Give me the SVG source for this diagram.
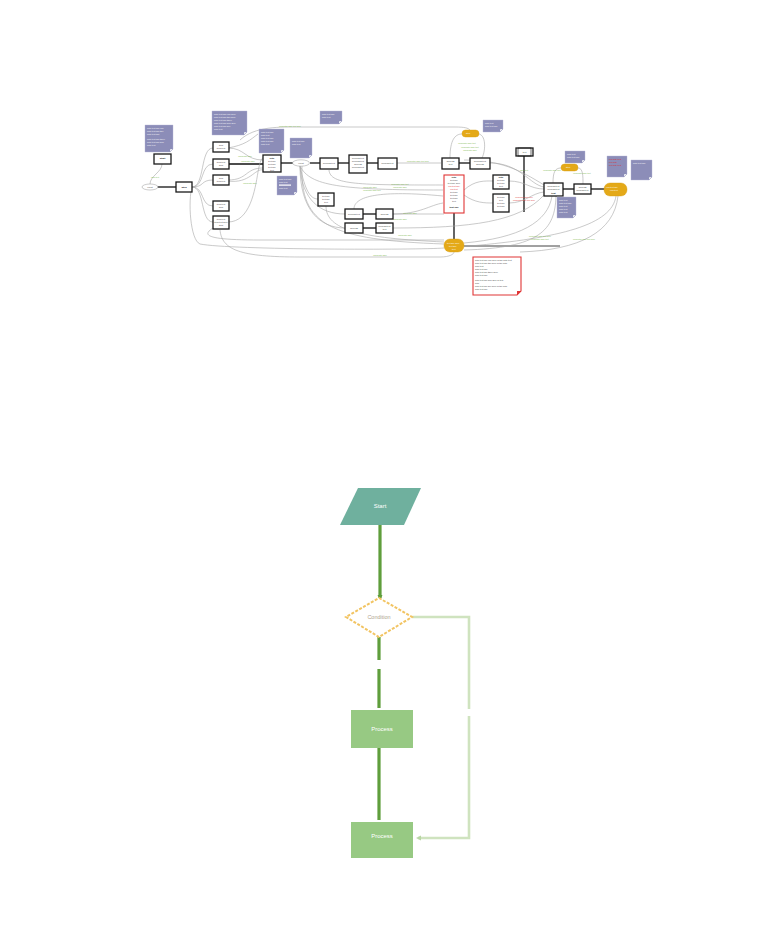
<svg xmlns="http://www.w3.org/2000/svg" width="768" height="946" viewBox="0 0 768 946">
<style>
.box{fill:#fff;stroke:#1a1a1a;stroke-width:1.3}
.note{fill:#8c8db8;stroke:#b8b9d6;stroke-width:0.4}
.fold{fill:#fff;stroke:#8c8db8;stroke-width:0.4}
.pill{fill:#e4a918;stroke:#d69c10;stroke-width:0.4}
.red{fill:#fff;stroke:#e03535;stroke-width:1.1}
.c{fill:none;stroke:#a6a6a6;stroke-width:0.6}
.k{fill:none;stroke:#111;stroke-width:1.3}
.t{font-family:"Liberation Sans",Arial,sans-serif;font-size:2.2px;fill:#333;text-anchor:middle}
.tb{font-family:"Liberation Sans",Arial,sans-serif;font-size:2.4px;fill:#111;font-weight:bold;text-anchor:middle}
.tw{font-family:"Liberation Sans",Arial,sans-serif;font-size:2.2px;fill:#fff}
.tr{font-family:"Liberation Sans",Arial,sans-serif;font-size:2.2px;fill:#d22}
.g{font-family:"Liberation Sans",Arial,sans-serif;font-size:2px;fill:#7ab648;text-anchor:middle}
.big{fill:none;stroke:#5f9e3c;stroke-width:3.2}
.lite{fill:none;stroke:#cfe3bf;stroke-width:2.6}
.bt{font-family:"Liberation Sans",Arial,sans-serif;font-size:6px;fill:#fff;text-anchor:middle}
</style>
<defs>
<marker id="ag" markerWidth="6" markerHeight="6" refX="3" refY="3" orient="auto" markerUnits="userSpaceOnUse"><path d="M0,0.5 L5,3 L0,5.5 z" fill="#5f9e3c"/></marker>
<marker id="al" markerWidth="6" markerHeight="6" refX="3" refY="3" orient="auto" markerUnits="userSpaceOnUse"><path d="M0,0.5 L5,3 L0,5.5 z" fill="#b9d6a4"/></marker>
</defs>
<rect width="768" height="946" fill="#fff"/>

<!-- ================= TOP DIAGRAM ================= -->
<g id="connectors-top">
<!-- black flow lines -->
<path class="k" d="M157,187 H176"/>
<path class="k" d="M228,164 H263"/>
<path class="k" d="M281,163 H293"/>
<path class="k" d="M310,163 H320"/>
<path class="k" d="M338,163 H349"/>
<path class="k" d="M367,163 H378"/>
<path class="k" d="M458,163 H470"/>
<path class="k" d="M363,214 H376"/>
<path class="k" d="M363,228 H376"/>
<path class="k" d="M454,213 V239"/>
<path class="k" d="M524,156 V212"/>
<path class="k" d="M563,189 H574"/>
<path class="k" d="M591,189 H605"/>
<path class="k" d="M464,246 H560" style="stroke-width:0.8"/>
<!-- gray curves -->
<path class="c" d="M150,184 C150,176 162,172 162,164"/>
<path class="c" d="M192,187 C205,187 200,148 213,148"/>
<path class="c" d="M192,187 C205,187 200,164 213,164"/>
<path class="c" d="M192,187 C205,187 200,180 213,180"/>
<path class="c" d="M192,187 C205,187 200,206 213,206"/>
<path class="c" d="M192,187 C205,187 200,222 213,222"/>
<path class="c" d="M228,148 C245,148 245,160 263,160"/>
<path class="c" d="M228,180 C248,180 245,168 263,168"/>
<path class="c" d="M228,181 C250,184 255,168 263,170"/>
<path class="c" d="M228,222 C250,222 255,190 258,172 C260,160 262,158 263,158"/>
<path class="c" d="M240,140 C255,126 280,127 300,127 H455 C465,127 468,128 470,130"/>
<path class="c" d="M228,148 C245,145 250,140 258,134"/>
<path class="c" d="M397,163 H441"/>
<path class="c" d="M300,166 C305,190 310,199 318,199"/>
<path class="c" d="M300,166 C302,200 320,214 345,214"/>
<path class="c" d="M300,166 C300,210 320,228 345,228"/>
<path class="c" d="M300,166 C310,186 340,190 443,190"/>
<path class="c" d="M302,166 C300,225 330,240 444,244"/>
<path class="c" d="M326,206 C326,230 360,238 444,242"/>
<path class="c" d="M354,209 C354,196 380,190 443,196"/>
<path class="c" d="M329,170 C330,185 360,185 443,185"/>
<path class="c" d="M393,214 C420,214 430,205 443,203"/>
<path class="c" d="M393,228 C470,228 520,222 544,195"/>
<path class="c" d="M393,214 H444"/>
<path class="c" d="M220,230 C222,250 240,257 300,257 H440 C450,257 454,254 454,252"/>
<path class="c" d="M213,228 C200,236 210,240 260,240 H444"/>
<path class="c" d="M192,187 C188,200 190,240 200,244 C230,250 420,250 444,248"/>
<path class="c" d="M450,158 C450,140 455,134 462,134"/>
<path class="c" d="M478,134 C486,134 486,150 482,158"/>
<path class="c" d="M490,163 C520,163 530,185 544,187"/>
<path class="c" d="M464,190 C475,180 485,181 493,181"/>
<path class="c" d="M464,195 C475,203 485,203 493,203"/>
<path class="c" d="M509,181 C525,181 530,189 544,189"/>
<path class="c" d="M509,203 C525,203 532,193 544,192"/>
<path class="c" d="M553,183 C553,172 555,168 561,168"/>
<path class="c" d="M578,168 C583,168 583,176 583,184"/>
<path class="c" d="M616,196 C612,225 560,238 470,246"/>
<path class="c" d="M618,196 C614,232 580,250 520,252"/>
<path class="c" d="M552,196 C548,222 520,238 464,243"/>
<path class="c" d="M556,196 C555,230 540,248 464,250"/>
<path class="c" d="M464,160 C500,160 520,170 544,185"/>
<!-- green labels -->
<text class="g" x="155" y="178">label text</text>
<text class="g" x="245" y="157">connector label</text>
<text class="g" x="248" y="162">connector label</text>
<text class="g" x="250" y="184">connector label</text>
<text class="g" x="290" y="127">connector label text here</text>
<text class="g" x="418" y="162">connector label text here</text>
<text class="g" x="370" y="188">connector label</text>
<text class="g" x="372" y="191">connector label text</text>
<text class="g" x="400" y="185">connector label text</text>
<text class="g" x="400" y="188">connector label</text>
<text class="g" x="470" y="148">connector label text</text>
<text class="g" x="470" y="151">connector label</text>
<text class="g" x="467" y="144">connector label text</text>
<text class="g" x="524" y="171">label text</text>
<text class="g" x="552" y="171">connector label text</text>
<text class="g" x="582" y="174">connector label text</text>
<text class="g" x="410" y="214">connector label</text>
<text class="g" x="400" y="220">connector label</text>
<text class="g" x="405" y="236">connector label</text>
<text class="g" x="380" y="256">connector label</text>
<text class="g" x="540" y="237">connector label text here</text>
<text class="g" x="540" y="240">connector label text</text>
<text class="g" x="584" y="240">connector label text here</text>
<text x="524" y="198" style="font-family:'Liberation Sans',Arial,sans-serif;font-size:2px;fill:#e03535;text-anchor:middle">connector label text</text>
<text x="524" y="201" style="font-family:'Liberation Sans',Arial,sans-serif;font-size:2px;fill:#e03535;text-anchor:middle">connector label text here</text>
</g>

<g id="n-note1"><path class="note" d="M145,125 H173 V149 L170,152 H145 Z"/><path class="fold" d="M170,152 L170,149 H173 Z"/>
<text class="tw" x="147" y="129">note text line one</text><text class="tw" x="147" y="132">note text line two</text><text class="tw" x="147" y="135">note text line</text><text class="tw" x="147" y="140">note text line three</text><text class="tw" x="147" y="143">note text line four</text><text class="tw" x="147" y="146">note text</text></g>
<g id="n-start"><rect class="box" x="154" y="154" width="17" height="10"/><text class="tb" x="162.5" y="159">Start</text></g>
<g id="n-ell1"><ellipse cx="150" cy="187" rx="8" ry="3" fill="#fff" stroke="#999" stroke-width="0.5"/><text class="t" x="150" y="188">event</text></g>
<g id="n-b1"><rect class="box" x="176" y="182" width="16" height="10"/><text class="tb" x="184" y="188">Step</text></g>
<g id="n-c1"><rect class="box" x="213" y="142" width="16" height="10"/><text class="t" x="221" y="146">item</text><text class="t" x="221" y="149">item text</text></g>
<g id="n-c2"><rect class="box" x="213" y="159" width="16" height="10"/><text class="t" x="221" y="163">item text</text><text class="t" x="221" y="166">item</text></g>
<g id="n-c3"><rect class="box" x="213" y="175" width="16" height="10"/><text class="t" x="221" y="179">item</text><text class="t" x="221" y="182">item text</text></g>
<g id="n-c4"><rect class="box" x="213" y="201" width="16" height="10"/><text class="t" x="221" y="205">item text</text><text class="t" x="221" y="208">item</text></g>
<g id="n-c5"><rect class="box" x="213" y="216" width="16" height="13"/><text class="t" x="221" y="220">item text</text><text class="t" x="221" y="223">item text here</text><text class="t" x="221" y="226">item</text></g>
<g id="n-note2"><path class="note" d="M212,111 H247 V132 L244,135 H212 Z"/><path class="fold" d="M244,135 L244,132 H247 Z"/>
<text class="tw" x="214" y="115">note text line one here</text><text class="tw" x="214" y="118">note text line two here</text><text class="tw" x="214" y="121">note text line three</text><text class="tw" x="214" y="124">note text line four here</text><text class="tw" x="214" y="127">note text line five</text><text class="tw" x="214" y="130">note text</text></g>
<g id="n-note3"><path class="note" d="M259,129 H284 V150 L281,153 H259 Z"/><path class="fold" d="M281,153 L281,150 H284 Z"/>
<text class="tw" x="261" y="133">note text line</text><text class="tw" x="261" y="136">note text</text><text class="tw" x="261" y="139">note text line</text><text class="tw" x="261" y="142">note text line</text><text class="tw" x="261" y="145">note text</text></g>
<g id="n-big1"><rect class="box" x="263" y="155" width="18" height="17"/><text class="tb" x="272" y="159">Title</text><text class="t" x="272" y="162">text line</text><text class="t" x="272" y="165">text line</text><text class="t" x="272" y="168">text line</text><text class="t" x="272" y="171">text</text></g>
<g id="n-note4"><path class="note" d="M290,138 H312 V155 L309,158 H290 Z"/><path class="fold" d="M309,158 L309,155 H312 Z"/><text class="tw" x="292" y="142">note text line</text><text class="tw" x="292" y="145">note text</text></g>
<g id="n-note5"><path class="note" d="M277,176 H297 V192 L294,195 H277 Z"/><path class="fold" d="M294,195 L294,192 H297 Z"/><text class="tw" x="279" y="180">note text line</text><text class="tw" x="279" y="183">note text</text><rect x="279" y="184.5" width="12" height="1.2" fill="#fff"/><text class="tw" x="279" y="189">note text</text></g>
<g id="n-ell2"><ellipse cx="301" cy="163" rx="8.5" ry="3.2" fill="#fff" stroke="#999" stroke-width="0.5"/><text class="t" x="301" y="164">event</text></g>
<g id="n-note6"><path class="note" d="M320,111 H342 V121 L339,124 H320 Z"/><path class="fold" d="M339,124 L339,121 H342 Z"/><text class="tw" x="322" y="115">note text line</text><text class="tw" x="322" y="118">note text</text></g>
<g id="n-d1"><rect class="box" x="320" y="158" width="18" height="11"/><text class="t" x="329" y="164">process text</text></g>
<g id="n-d2"><rect class="box" x="349" y="155" width="18" height="18"/><text class="t" x="358" y="159">process text</text><text class="t" x="358" y="162">process text</text><text class="t" x="358" y="165">process</text><text class="t" x="358" y="168">process text</text></g>
<g id="n-d3"><rect class="box" x="378" y="158" width="19" height="11"/><text class="t" x="387.5" y="164">process text</text></g>
<g id="n-d4"><rect class="box" x="442" y="158" width="17" height="11"/><text class="t" x="450.5" y="162">process</text><text class="t" x="450.5" y="165">text</text></g>
<g id="n-d5"><rect class="box" x="470" y="158" width="20" height="11"/><text class="t" x="480" y="162">process text</text><text class="t" x="480" y="165">process</text></g>
<g id="n-red1"><rect class="red" x="444" y="175" width="20" height="38"/><text class="tb" x="454" y="178">Title</text><text class="t" x="454" y="181">text line</text><text class="t" x="454" y="184">text line here</text><text x="454" y="187" style="font-family:'Liberation Sans',Arial,sans-serif;font-size:2.2px;fill:#d22;text-anchor:middle">red text line</text><text x="454" y="190" style="font-family:'Liberation Sans',Arial,sans-serif;font-size:2.2px;fill:#d22;text-anchor:middle">red text</text><text class="t" x="454" y="193">text line</text><text class="t" x="454" y="196">text line</text><text class="t" x="454" y="199">text line</text><text class="t" x="454" y="202">text</text><text class="tb" x="454" y="208">text line</text></g>
<g id="n-pill1"><rect class="pill" x="462" y="130" width="17" height="7" rx="3.5"/><text class="tw" x="466" y="134">step</text></g>
<g id="n-note7"><path class="note" d="M483,120 H503 V129 L500,132 H483 Z"/><path class="fold" d="M500,132 L500,129 H503 Z"/><text class="tw" x="485" y="124">note text</text><text class="tw" x="485" y="127">note text line</text></g>
<g id="n-e1"><rect class="box" x="493" y="175" width="16" height="14"/><text class="tb" x="501" y="178">Title</text><text class="t" x="501" y="181">text line</text><text class="t" x="501" y="184">text line</text><text class="t" x="501" y="187">text</text></g>
<g id="n-e2"><rect class="box" x="493" y="194" width="16" height="18"/><text class="t" x="501" y="198">text line</text><text class="t" x="501" y="201">text</text><text class="t" x="501" y="204">text line</text><text class="t" x="501" y="207">text line</text></g>
<g id="n-dbl"><rect class="box" x="516" y="148" width="17" height="8"/><rect x="518" y="148" width="13" height="8" fill="none" stroke="#111" stroke-width="0.6"/><text class="t" x="524.5" y="153">text</text></g>
<g id="n-f1"><rect class="box" x="544" y="183" width="19" height="13"/><text class="t" x="553.5" y="187">process text</text><text class="t" x="553.5" y="190">process text</text><text class="tb" x="553.5" y="194">text</text></g>
<g id="n-note8"><path class="note" d="M557,197 H576 V215 L573,218 H557 Z"/><path class="fold" d="M573,218 L573,215 H576 Z"/><text class="tw" x="559" y="201">note text</text><text class="tw" x="559" y="204">note text line</text><text class="tw" x="559" y="207">note text</text><text class="tw" x="559" y="210">note text</text><text class="tw" x="559" y="213">note text</text></g>
<g id="n-note9"><path class="note" d="M565,151 H585 V160 L582,163 H565 Z"/><path class="fold" d="M582,163 L582,160 H585 Z"/><text class="tw" x="567" y="155">note text</text><text class="tw" x="567" y="158">note text line</text></g>
<g id="n-pill2"><rect class="pill" x="561" y="164" width="17" height="7" rx="3.5"/><text class="tw" x="566" y="168">step</text></g>
<g id="n-f2"><rect class="box" x="574" y="184" width="17" height="10"/><text class="t" x="582.5" y="188">process</text><text class="t" x="582.5" y="191">process text</text></g>
<g id="n-pill3"><rect class="pill" x="604" y="183" width="23" height="13" rx="6"/><text class="tw" x="606" y="188">end text line</text><text class="tw" x="610" y="191">end text</text></g>
<g id="n-note10"><path class="note" d="M607,156 H627 V174 L624,177 H607 Z"/><path class="fold" d="M624,177 L624,174 H627 Z"/><text class="tr" x="609" y="160">red note text</text><text class="tr" x="609" y="163">red note</text><text class="tr" x="609" y="166">red note text</text></g>
<g id="n-note11"><path class="note" d="M631,160 H652 V177 L649,180 H631 Z"/><path class="fold" d="M649,180 L649,177 H652 Z"/><text class="tw" x="633" y="164">note text line</text></g>
<g id="n-g1"><rect class="box" x="318" y="193" width="16" height="13"/><text class="t" x="326" y="197">text line</text><text class="t" x="326" y="200">text line</text><text class="t" x="326" y="203">text</text></g>
<g id="n-g2"><rect class="box" x="345" y="209" width="18" height="10"/><text class="t" x="354" y="215">process text</text></g>
<g id="n-g3"><rect class="box" x="376" y="209" width="17" height="10"/><text class="t" x="384.5" y="215">process</text></g>
<g id="n-g4"><rect class="box" x="345" y="223" width="18" height="10"/><text class="t" x="354" y="229">process</text></g>
<g id="n-g5"><rect class="box" x="376" y="223" width="17" height="10"/><text class="t" x="384.5" y="227">process text</text><text class="t" x="384.5" y="230">text</text></g>
<g id="n-pill4"><rect class="pill" x="444" y="239" width="20" height="13" rx="6"/><text class="tw" x="447" y="244">text line here</text><text class="tw" x="449" y="247">text line</text><text class="tw" x="452" y="250">text</text></g>
<g id="n-rednote"><path class="red" d="M473,257 H521 V291 L517,295 H473 Z"/><path d="M517,295 L517,291 H521 Z" fill="#e03535"/>
<text class="t" x="475" y="261" style="text-anchor:start">note text line one here in the note text</text><text class="t" x="475" y="264" style="text-anchor:start">note text line two here in the note</text><text class="t" x="475" y="267" style="text-anchor:start">note text</text><text class="t" x="475" y="270" style="text-anchor:start">note text line</text><text class="t" x="475" y="273" style="text-anchor:start">note text line three here</text><text class="t" x="475" y="276" style="text-anchor:start">note text line</text><text class="t" x="475" y="281" style="text-anchor:start">note text line four here in text</text><text class="t" x="475" y="284" style="text-anchor:start">note</text><text class="t" x="475" y="287" style="text-anchor:start">note text line five here in the note</text><text class="t" x="475" y="290" style="text-anchor:start">note text line</text></g>

<!-- ================= BOTTOM FLOWCHART ================= -->
<g id="connectors-bottom">
<path class="big" d="M380,525 V598" marker-end="url(#ag)"/>
<path class="big" d="M379,637 V660 M379,669 V708"/>
<path class="big" d="M379,748 V820"/>
<path class="lite" d="M412,617 H469 V709 M469,716 V838 H418" marker-end="url(#al)"/>
</g>
<g id="b-start"><path d="M358,488 H421 L404,525 H340 Z" fill="#6fb09e"/><text class="bt" x="380" y="508">Start</text></g>
<g id="b-cond"><path d="M379,598 L412,617 L379,637 L346,617 Z" fill="#fff" stroke="#f2c462" stroke-width="2" stroke-dasharray="3,1.5"/><text x="379" y="619" style="font-family:'Liberation Sans',Arial,sans-serif;font-size:5.5px;fill:#b0a590;text-anchor:middle">Condition</text></g>
<g id="b-proc1"><rect x="351" y="710" width="62" height="38" fill="#97c983"/><text class="bt" x="382" y="731">Process</text></g>
<g id="b-proc2"><rect x="351" y="822" width="62" height="36" fill="#97c983"/><text class="bt" x="382" y="838">Process</text></g>
</svg>
